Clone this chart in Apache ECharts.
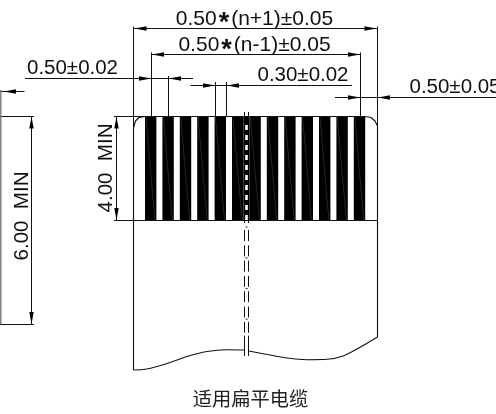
<!DOCTYPE html>
<html><head><meta charset="utf-8">
<style>html,body{margin:0;padding:0;background:#fff}#c{width:496px;height:414px}</style>
<script src="https://cdn.jsdelivr.net/npm/echarts@6/dist/echarts.min.js"></script>
</head><body><div id="c"></div>
<script>
// conductor stripes: [left, right] on the horizontal drawing scale
const conductors = [[145,156.4],[162.4,173.8],[179.8,191.2],[197.2,208.6],[214.6,226],[232,243.6],[249.4,260.8],[266.8,278.2],[284.2,295.6],[301.6,313],[319,330.4],[336.4,347.8],[353.8,365.2]];
const conductorTop = 116, conductorBottom = 220;
// dimension and extension lines: [x1,y1,x2,y2]
const dimLines = [
 [133.5,26.5,133.5,128],[377.5,26.5,377.5,126],[134,28.5,377,28.5],
 [151.5,52.5,151.5,116],[360.5,52.5,360.5,116],[151,54.5,360,54.5],
 [25,78.5,193,78.5],[168.5,76,168.5,116],
 [190.5,85.5,352,85.5],[215.5,82,215.5,116],[226.5,82,226.5,116],
 [335,97.5,496,97.5],
 [114,116.5,365,116.5],[114,220.5,377,220.5],
 [116.5,116,116.5,220],
 [0.5,91.5,24.5,91.5],[0,116.5,34,116.5],[0,324.5,34,324.5],
 [31.5,116,31.5,324]
];
const edgeLine = [[0.8,90,0.8,324.5]];
// arrowheads: [tipX, tipY, dx, dy]
const arrows = [
 [134.5,28.5,-1,0],[376.5,28.5,1,0],[152,54.5,-1,0],[360,54.5,1,0],
 [151,78.5,1,0],[169,78.5,-1,0],[215,85.5,1,0],[227,85.5,-1,0],
 [360,97.5,1,0],[378,97.5,-1,0],[4,91.5,-1,0],
 [116.5,116.5,0,-1],[116.5,220,0,1],[31.5,116.5,0,-1],[31.5,324,0,1]
];
// cable outline
const outlineLeft = [[145,116.5],[139,117.5],[135.5,121],[133.5,128],[133.5,370]];
const outlineRight = [[365,116.5],[371,117.5],[375,121],[377.5,126],[377.5,337]];
const cutLeft = [[133.5,370],[147,369],[167,363.5],[187,356.5],[207,351.5],[227,349.7],[244.5,350]];
const cutRight = [[249,351],[267,354.5],[287,358],[307,359.7],[327,359.3],[343,356],[360,347.3],[377.5,337]];
// break lines
const breakX = [244.5,248.5];
const dashTop = 230, dashEnd = 335.7;
const breakBottom = 356, breakTop = 112;
// labels: [text before asterisk, text after asterisk, x, y, quarter turns]
const labels = [
 ['0.50','(n+1)±0.05',254.5,19,0],
 ['0.50','(n-1)±0.05',254.5,45.5,0],
 ['0.50±0.02','',72.5,68,0],
 ['0.30±0.02','',303,75,0],
 ['0.50±0.05','',455,87,0],
 ['4.00  MIN','',106.5,168,1],
 ['6.00  MIN','',22,216,1]
];
const caption = ['适用扁平电缆',250.5,399];

const chart = echarts.init(document.getElementById('c'),null,{renderer:'canvas'});
const ink = '#111';
function seg(api,d,style){const a=api.coord([d[0],d[1]]),b=api.coord([d[2],d[3]]);
 return {type:'line',shape:{x1:a[0],y1:a[1],x2:b[0],y2:b[1]},style:Object.assign({stroke:ink,lineWidth:1},style||{})};}
chart.setOption({
 animation:false,
 backgroundColor:'#fff',
 grid:{left:0,right:0,top:0,bottom:0},
 xAxis:{type:'value',min:0,max:496,show:false},
 yAxis:{type:'value',min:0,max:414,inverse:true,show:false},
 series:[
  {type:'custom',coordinateSystem:'cartesian2d',data:conductors,silent:true,z:2,
   renderItem(p,api){const d=conductors[p.dataIndex];
    const a=api.coord([d[0],conductorTop]),b=api.coord([d[1],conductorBottom]);
    return {type:'group',children:[
     {type:'rect',shape:{x:a[0],y:a[1],width:b[0]-a[0],height:b[1]-a[1]},style:{fill:'#000'}},
     {type:'line',shape:{x1:a[0]+0.8,y1:a[1],x2:b[0]-1.5,y2:b[1]},style:{stroke:'#5a5a5a',lineWidth:0.4}}
    ]};}},
  {type:'custom',data:dimLines,silent:true,z:3,
   renderItem(p,api){return seg(api,dimLines[p.dataIndex]);}},
  {type:'custom',data:edgeLine,silent:true,z:3,
   renderItem(p,api){return seg(api,edgeLine[p.dataIndex],{stroke:'#777',lineWidth:1.4});}},
  {type:'custom',data:arrows,silent:true,z:4,
   renderItem(p,api){const d=arrows[p.dataIndex],t=api.coord([d[0],d[1]]);
    const L=12,W=2.2,nx=-d[3],ny=d[2],bx=t[0]-d[2]*L,by=t[1]-d[3]*L;
    return {type:'polygon',shape:{points:[t,[bx+nx*W,by+ny*W],[bx-nx*W,by-ny*W]]},style:{fill:'#000'}};}},
  ...[outlineLeft,outlineRight,cutLeft,cutRight].map((pts,i)=>({
    type:'line',data:pts,showSymbol:false,silent:true,z:3,smooth:i>=2?0.3:false,
    lineStyle:{color:ink,width:1.1}})),
  {type:'custom',data:[0],silent:true,z:4,
   renderItem(p,api){const a=api.coord([243.6,conductorTop]),b=api.coord([249.4,conductorBottom]);
    const kids=[{type:'rect',shape:{x:a[0],y:a[1],width:b[0]-a[0],height:b[1]-a[1]},style:{fill:'#000'}}];
    for(let y=conductorTop+9;y<conductorBottom;y+=10){
      const q=api.coord([245.2,y]);
      kids.push({type:'rect',shape:{x:q[0],y:q[1],width:2.6,height:5},style:{fill:'#fff'}});
    }
    [226.5,257.3,288,318.7].forEach(y=>{const q=api.coord([245.6,y]);
      kids.push({type:'rect',shape:{x:q[0],y:q[1],width:2,height:1},style:{fill:'#222'}});});
    return {type:'group',children:kids};}},
  {type:'custom',data:breakX,silent:true,z:5,
   renderItem(p,api){const x=breakX[p.dataIndex],kids=[];
    kids.push(seg(api,[x,breakTop,x,conductorTop+1],{lineWidth:1}));
    kids.push(seg(api,[x,conductorBottom,x,conductorBottom+3],{lineWidth:1}));
    kids.push(seg(api,[x,dashTop,x,dashEnd],{lineWidth:1,lineDash:[11,4.3]}));
    kids.push(seg(api,[x,dashEnd,x,breakBottom],{lineWidth:1}));
    return {type:'group',children:kids};}},
  {type:'custom',data:labels,silent:true,z:6,
   renderItem(p,api){const d=labels[p.dataIndex],c=api.coord([d[2],d[3]]);
    const rich={a:{font:'21px "Liberation Sans"',fill:'#111'},s:{font:'bold 27px "Liberation Sans"',fill:'#111',padding:[10,2,0,2]}};
    const txt=d[1]?'{a|'+d[0]+'}{s|*}{a|'+d[1]+'}':d[0];
    return {type:'text',x:c[0],y:c[1],rotation:d[4]?Math.PI/2:0,
     style:{text:txt,rich:d[1]?rich:undefined,fill:'#111',font:'20.5px "Liberation Sans"',align:'center',verticalAlign:'middle'}};}},
  {type:'custom',data:[caption],silent:true,z:6,
   renderItem(p,api){const c=api.coord([caption[1],caption[2]]);
    return {type:'text',x:c[0],y:c[1],style:{text:caption[0],fill:'#222',font:'19.3px "Noto Sans CJK SC"',align:'center',verticalAlign:'middle'}};}}
 ]
});
</script></body></html>
